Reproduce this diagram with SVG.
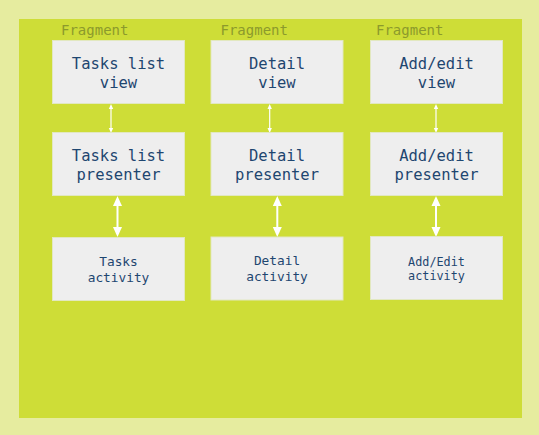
<svg xmlns="http://www.w3.org/2000/svg" width="539" height="435" viewBox="0 0 539 435">
<defs>
<style>
.box{fill:#eeeeee;stroke:#e2e8c0;stroke-width:1}
.frag{font-family:"DejaVu Sans Mono","Liberation Mono",monospace;font-size:14px;fill:#8c9a2c}
.t{font-family:"DejaVu Sans Mono","Liberation Mono",monospace;font-size:15.5px;fill:#1e4670;text-anchor:middle}
.s{font-family:"DejaVu Sans Mono","Liberation Mono",monospace;font-size:12.8px;fill:#1e4670;text-anchor:middle}
.xs{font-family:"DejaVu Sans Mono","Liberation Mono",monospace;font-size:11.8px;fill:#1e4670;text-anchor:middle}
.thin{stroke:#ffffff;stroke-width:1.2;fill:none}
.thick{stroke:#ffffff;stroke-width:2;fill:none}
</style>
</defs>
<rect x="0" y="0" width="539" height="435" fill="#e6ec9f"/>
<rect x="19" y="19" width="503" height="399" fill="#cedd37"/>
<text class="frag" x="61" y="35">Fragment</text>
<text class="frag" x="220.5" y="35">Fragment</text>
<text class="frag" x="376" y="35">Fragment</text>
<g id="connectors">
<line class="thin" x1="111" y1="108" x2="111" y2="129"/>
<polygon points="111,104 108.8,109 113.2,109" fill="#fff"/>
<polygon points="111,133 108.8,128 113.2,128" fill="#fff"/>
<line class="thin" x1="269.7" y1="108" x2="269.7" y2="129"/>
<polygon points="269.7,104 267.5,109 271.9,109" fill="#fff"/>
<polygon points="269.7,133 267.5,128 271.9,128" fill="#fff"/>
<line class="thin" x1="436" y1="108" x2="436" y2="129"/>
<polygon points="436,104 433.8,109 438.2,109" fill="#fff"/>
<polygon points="436,133 433.8,128 438.2,128" fill="#fff"/>
<line class="thick" x1="117.5" y1="204" x2="117.5" y2="228"/>
<polygon points="117.5,196 113,206 122,206" fill="#fff"/>
<polygon points="117.5,237 113,227 122,227" fill="#fff"/>
<line class="thick" x1="277.3" y1="204" x2="277.3" y2="228"/>
<polygon points="277.3,196 272.8,206 281.8,206" fill="#fff"/>
<polygon points="277.3,237 272.8,227 281.8,227" fill="#fff"/>
<line class="thick" x1="436" y1="204" x2="436" y2="228"/>
<polygon points="436,196 431.5,206 440.5,206" fill="#fff"/>
<polygon points="436,237 431.5,227 440.5,227" fill="#fff"/>
</g>
<g id="tasks-view"><rect class="box" x="52.5" y="40.5" width="132" height="63"/><text class="t" x="118.5" y="68.5">Tasks list</text><text class="t" x="118.5" y="87.5">view</text></g>
<g id="tasks-presenter"><rect class="box" x="52.5" y="132.5" width="132" height="63"/><text class="t" x="118.5" y="160.5">Tasks list</text><text class="t" x="118.5" y="179.5">presenter</text></g>
<g id="tasks-activity"><rect class="box" x="52.5" y="237.5" width="132" height="63"/><text class="s" x="118.5" y="266">Tasks</text><text class="s" x="118.5" y="282">activity</text></g>
<g id="detail-view"><rect class="box" x="211" y="40.5" width="132" height="63"/><text class="t" x="277" y="68.5">Detail</text><text class="t" x="277" y="87.5">view</text></g>
<g id="detail-presenter"><rect class="box" x="211" y="132.5" width="132" height="63"/><text class="t" x="277" y="160.5">Detail</text><text class="t" x="277" y="179.5">presenter</text></g>
<g id="detail-activity"><rect class="box" x="211" y="237" width="132" height="63"/><text class="s" x="277" y="264.5">Detail</text><text class="s" x="277" y="280.5">activity</text></g>
<g id="addedit-view"><rect class="box" x="370.5" y="40.5" width="132" height="63"/><text class="t" x="436.5" y="68.5">Add/edit</text><text class="t" x="436.5" y="87.5">view</text></g>
<g id="addedit-presenter"><rect class="box" x="370.5" y="132.5" width="132" height="63"/><text class="t" x="436.5" y="160.5">Add/edit</text><text class="t" x="436.5" y="179.5">presenter</text></g>
<g id="addedit-activity"><rect class="box" x="370.5" y="236.5" width="132" height="63"/><text class="xs" x="436.5" y="266">Add/Edit</text><text class="xs" x="436.5" y="280">activity</text></g>
</svg>
